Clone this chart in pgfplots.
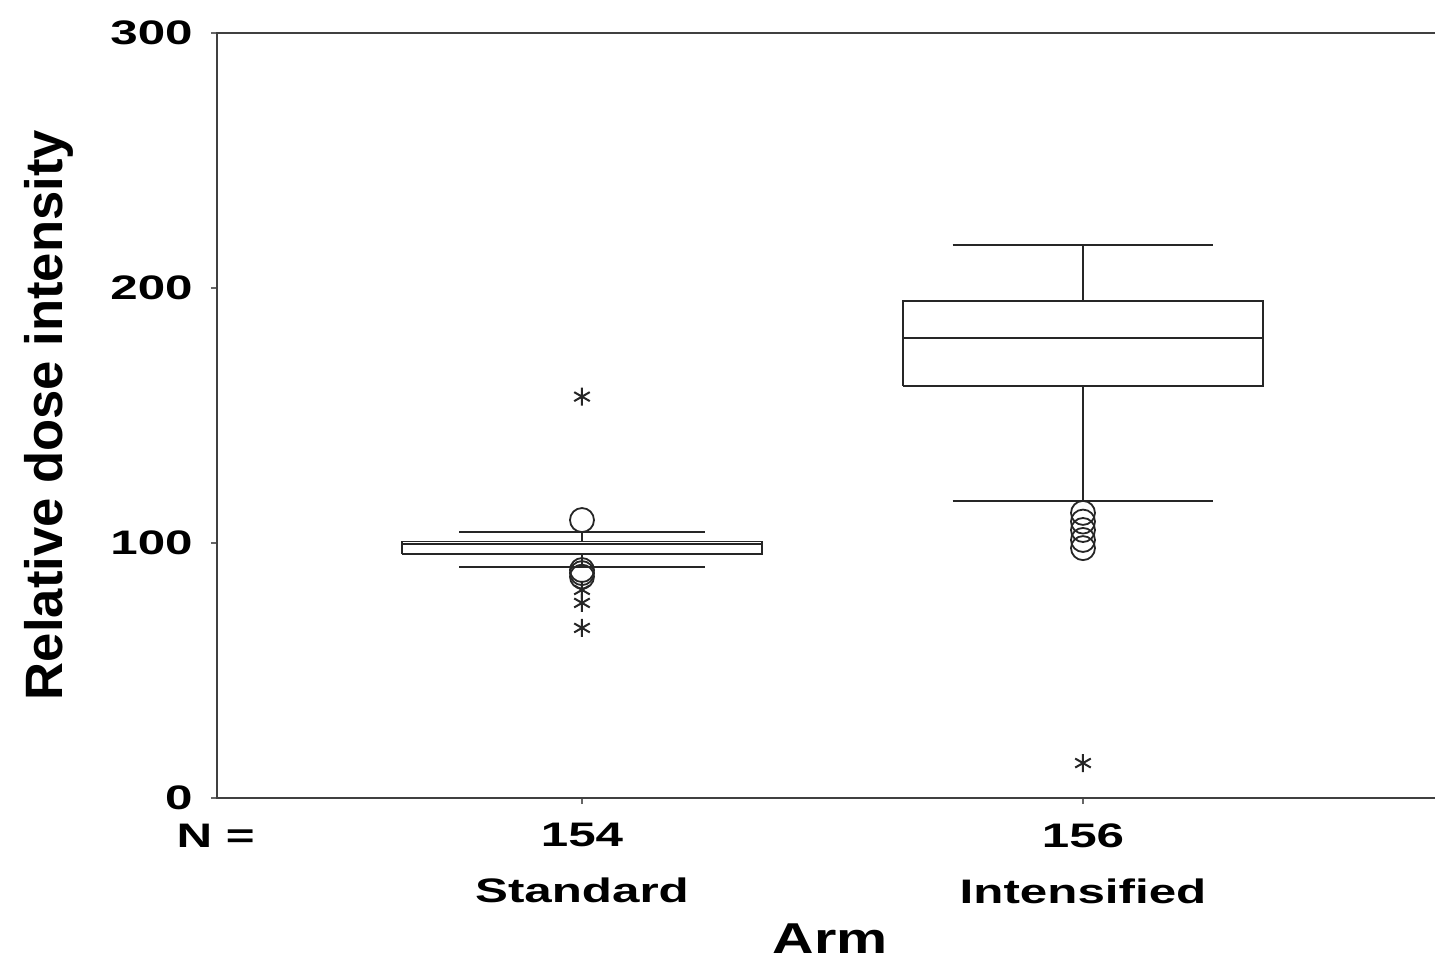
\documentclass[border=0pt]{standalone}
\usepackage{pgfplots}
\pgfplotsset{compat=1.18}
\usepackage{graphicx}
\usepackage{fontspec}
\setmainfont{Liberation Sans}
\newcommand{\wt}[2][1.45]{\scalebox{#1}[1]{#2}}
\begin{document}
\begin{tikzpicture}
\useasboundingbox (-108.5pt,-80.5pt) rectangle (609pt,399pt);
\begin{axis}[
  at={(0,0)}, anchor=south west,
  scale only axis, width=609.5pt, height=382.5pt,
  xmin=0.2715, xmax=2.7046, ymin=0, ymax=300,
  axis line style={line width=1pt, draw=black!75},
  xtick={1,2}, ytick={0,100,200,300},
  xticklabels={{\wt{154}\\\wt{Standard}},{\wt{156}\\\wt{Intensified}}},
  yticklabels={\wt{0},\wt{100},\wt{200},\wt{300}},
  tick align=outside, tickpos=left, major tick length=3pt,
  tick style={line width=0.6pt, black!60},
  xticklabel style={font=\fontsize{17}{28}\selectfont\bfseries, align=center, anchor=north, inner sep=0pt, yshift=-9.5pt},
  yticklabel style={font=\fontsize{17}{20}\selectfont\bfseries, anchor=east, inner sep=0pt, xshift=-9pt},
  clip=false,
  every axis plot/.append style={draw=black!85, line width=0.9pt},
]
% Standard: box (q1=95.8, median=99.6, q3=100.6), whiskers 90.5 / 104.2
\addplot[mark=none] coordinates {(0.64,95.8) (1.36,95.8) (1.36,100.6) (0.64,100.6) (0.64,95.8)};
\addplot[mark=none] coordinates {(0.64,99.6) (1.36,99.6)};
\addplot[mark=none] coordinates {(1,100.6) (1,104.2)};
\addplot[mark=none] coordinates {(0.755,104.2) (1.245,104.2)};
\addplot[mark=none] coordinates {(1,95.8) (1,90.5)};
\addplot[mark=none] coordinates {(0.755,90.5) (1.245,90.5)};
% Intensified: box (q1=161.7, median=180.3, q3=195.0), whiskers 116.5 / 216.9
\addplot[mark=none] coordinates {(1.64,161.7) (2.36,161.7) (2.36,195.0) (1.64,195.0) (1.64,161.7)};
\addplot[mark=none] coordinates {(1.64,180.3) (2.36,180.3)};
\addplot[mark=none] coordinates {(2,195.0) (2,216.9)};
\addplot[mark=none] coordinates {(1.74,216.9) (2.26,216.9)};
\addplot[mark=none] coordinates {(2,161.7) (2,116.5)};
\addplot[mark=none] coordinates {(1.74,116.5) (2.26,116.5)};
% outliers (circles) and extremes (asterisks)
\addplot[only marks, mark=o, mark size=6pt, mark options={line width=0.9pt, draw=black!85}] coordinates {(1,109) (1,89.4) (1,88.2) (1,86.8) (2,111.8) (2,108.4) (2,105.1) (2,101.2) (2,98)};
\addplot[only marks, mark=asterisk, mark size=4.5pt, mark options={line width=1pt, draw=black!85}] coordinates {(1,157.4) (1,81.6) (1,76.5) (1,66.7) (2,13.7)};
\end{axis}
\node[font=\fontsize{17}{20}\selectfont\bfseries, anchor=base east, inner sep=0pt] at (19pt,-24.5pt) {\wt{N =}};
\node[font=\fontsize{21.6}{24}\selectfont\bfseries, anchor=base, inner sep=0pt] at (306.5pt,-77.5pt) {\wt[1.33]{Arm}};
\node[font=\fontsize{26.3}{30}\selectfont\bfseries, rotate=90, anchor=base, inner sep=0pt] at (-77pt,191.5pt) {Relative dose intensity};
\end{tikzpicture}
\end{document}
